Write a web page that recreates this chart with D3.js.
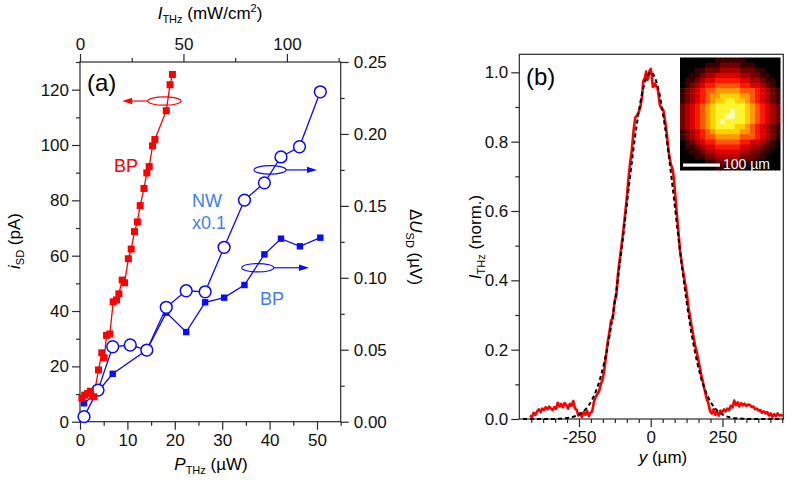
<!DOCTYPE html>
<html><head><meta charset="utf-8">
<script src="https://cdn.jsdelivr.net/npm/d3@7"></script>
<style>body{margin:0;background:#fff}svg{display:block}text{font-family:"Liberation Sans",Arial,sans-serif}</style>
</head><body>
<svg id="c" width="787" height="482"></svg>
<script>
// ---------- Panel (a) data ----------
const bpRedP = [0.4,1.0,1.6,2.2,2.9,3.9,4.6,5.1,5.6,6.3,7.0,7.7,8.2,8.9,9.4,10.2,10.8,11.5,12.1,12.7,13.5,14.1,14.6,15.3,15.8,18.2,19.0,19.5];
const bpRedI = [8.5,9.6,10.2,11.0,9.0,18.7,24.9,23.1,31.2,31.7,43.3,44.0,46.2,51.2,50.2,58.9,62.4,68.7,72.2,78.1,84.3,89.9,92.2,99.7,102.0,112.4,121.8,125.5];
const bpBlueP = [0.85,3.8,6.9,14.1,18.2,22.4,26.4,30.4,34.7,38.9,42.4,46.4,50.7];
const bpBlueU = [0.0128,0.021,0.0333,0.0498,0.0758,0.0623,0.083,0.0862,0.095,0.1163,0.1272,0.1219,0.1279];
const nwP = [0.85,3.8,6.9,10.6,14.1,18.2,22.4,26.4,30.4,34.7,38.9,42.4,46.3,50.7];
const nwU = [0.0035,0.022,0.0521,0.0533,0.0498,0.0795,0.091,0.0903,0.1212,0.154,0.166,0.184,0.1911,0.2293];
const aLeftTicks = [0,20,40,60,80,100,120];
const aRightTicks = [0,0.05,0.10,0.15,0.20,0.25];
const aBottomTicks = [0,10,20,30,40,50];
const aTopTicks = [0,50,100];
// ---------- Panel (b) data ----------
const profY = [-421,-414,-408,-402,-396,-390,-384,-378,-372,-366,-360,-354,-348,-342,-336,-330,-324,-318,-312,-306,-300,-294,-288,-282,-276,-270,-264,-258,-252,-246,-240,-234,-228,-222,-216,-210,-204,-198,-192,-186,-180,-174,-168,-162,-156,-150,-144,-138,-132,-126,-120,-114,-108,-102,-96,-90,-84,-78,-72,-66,-60,-54,-48,-42,-36,-30,-26,-20,-16,-12,-8,-4,0,4,7,11,15,19,24,28,32,38,44,50,56,60,65,70,77,81,85,90,96,102,108,114,120,126,131,137,143,149,155,160,166,172,178,183,189,195,201,207,213,219,225,231,237,243,249,255,261,267,273,279,285,291,297,303,309,315,321,327,333,340,346,352,358,364,370,376,382,388,394,400,406,412,418,424,430,436,442,448,454,460];
const profI = [0.010,0.005,0.018,0.012,0.022,0.028,0.020,0.030,0.026,0.034,0.028,0.036,0.030,0.026,0.034,0.029,0.047,0.036,0.044,0.034,0.046,0.040,0.030,0.044,0.038,0.052,0.030,0.026,0.010,0.016,0.006,0.020,0.012,0.024,0.008,0.018,0.022,0.050,0.064,0.072,0.080,0.100,0.113,0.140,0.180,0.222,0.250,0.285,0.290,0.340,0.355,0.420,0.460,0.500,0.540,0.585,0.632,0.690,0.737,0.775,0.830,0.870,0.875,0.885,0.900,0.930,0.975,0.985,1.002,0.978,0.985,1.005,1.010,0.990,0.958,0.960,0.968,0.960,0.954,0.930,0.905,0.895,0.891,0.860,0.824,0.790,0.757,0.735,0.718,0.690,0.651,0.600,0.545,0.487,0.450,0.420,0.391,0.360,0.324,0.295,0.265,0.237,0.210,0.195,0.170,0.145,0.120,0.103,0.080,0.058,0.045,0.022,0.016,0.028,0.012,0.020,0.010,0.024,0.018,0.028,0.022,0.030,0.026,0.038,0.034,0.053,0.040,0.048,0.036,0.046,0.040,0.044,0.038,0.042,0.040,0.034,0.036,0.028,0.030,0.024,0.026,0.018,0.022,0.016,0.020,0.010,0.016,0.006,0.014,0.008,0.016,0.010,0.012,0.008];
const fitY = [-445,-400,-350,-300,-275,-250,-225,-200,-175,-150,-125,-100,-75,-50,-25,0,25,50,75,100,125,150,175,200,225,250,275,300,350,400,462];
const fitI = [0,0,0,0.002,0.005,0.013,0.03,0.063,0.12,0.211,0.339,0.5,0.678,0.841,0.958,1.0,0.958,0.841,0.678,0.5,0.339,0.211,0.12,0.063,0.03,0.013,0.005,0.002,0,0,0];
const bLeftTicks = [0,0.2,0.4,0.6,0.8,1.0];
const bBottomTicks = [-250,0,250];
// inset beam image (20 x 22 cells, level 0..a)
const beamRows = [
"00000001111110000000",
"00000111222211100000",
"00011222333322211000",
"00112334444433221100",
"01123445555544332110",
"01234556666655443210",
"12345667777766654321",
"12345677888877654321",
"12345678899887654321",
"23456789999998765432",
"2345678999a998765432",
"234567899aa998765432",
"23456789a99998765432",
"23456789999887654321",
"12345678888877654321",
"12345667777766654321",
"01234556666655443210",
"01123445555544332110",
"00112334444433221100",
"00011223333322211000",
"00000112222211100000",
"00000001111110000000"];

const svg = d3.select("#c");
const AX = "#2a2a2a";
const RED = "#ff0000", BLUE = "#0a0aff", LBLUE = "#3f7ff0";
const FS = 17;
const fmtHy = d => String(d);

function styleAxis(g){ g.select(".domain").remove(); g.selectAll("line").attr("stroke",AX).attr("stroke-width",1.2); g.selectAll("text").attr("font-size",FS).attr("fill","#111").attr("font-family","Liberation Sans, Arial"); }
function minor(g, axis){ g.call(axis); g.select(".domain").remove(); g.selectAll("line").attr("stroke",AX).attr("stroke-width",1.2); g.selectAll("text").remove(); }
const range = (a,b,s)=>{const r=[];for(let v=a;v<=b+1e-9;v+=s)r.push(+v.toFixed(6));return r;};

// ---------- Panel (a) ----------
const xA = d3.scaleLinear([0,55],[80,340.7]);
const xT = d3.scaleLinear([0,126],[80,340.7]);
const yL = d3.scaleLinear([0,130],[421.7,62]);
const yR = d3.scaleLinear([0,0.25],[421.7,62]);
const a = svg.append("g");
minor(a.append("g").attr("transform","translate(80,0)"), d3.axisLeft(yL).tickValues(range(10,130,20)).tickSize(4));
minor(a.append("g").attr("transform","translate(340.7,0)"), d3.axisRight(yR).tickValues(range(0.025,0.25,0.05)).tickSize(4));
minor(a.append("g").attr("transform","translate(0,421.7)"), d3.axisBottom(xA).tickValues(range(5,55,10)).tickSize(4));
minor(a.append("g").attr("transform","translate(0,62)"), d3.axisTop(xT).tickValues([25,75,125]).tickSize(4));
a.append("g").attr("transform","translate(80,0)").call(d3.axisLeft(yL).tickValues(aLeftTicks).tickSize(8).tickPadding(3)).call(styleAxis);
a.append("g").attr("transform","translate(340.7,0)").call(d3.axisRight(yR).tickValues(aRightTicks).tickSize(8).tickPadding(5).tickFormat(d3.format(".2f"))).call(styleAxis);
a.append("g").attr("transform","translate(0,421.7)").call(d3.axisBottom(xA).tickValues(aBottomTicks).tickSize(8).tickPadding(4)).call(styleAxis);
a.append("g").attr("transform","translate(0,62)").call(d3.axisTop(xT).tickValues(aTopTicks).tickSize(8).tickPadding(4)).call(styleAxis);
a.append("rect").attr("x",80).attr("y",62).attr("width",260.7).attr("height",359.7).attr("fill","none").attr("stroke",AX).attr("stroke-width",1.2);

const lineRed = d3.line().x(d=>xA(d[0])).y(d=>yL(d[1]));
const lineR = d3.line().x(d=>xA(d[0])).y(d=>yR(d[1]));
const redPts = bpRedP.map((p,i)=>[p,bpRedI[i]]);
const bluePts = bpBlueP.map((p,i)=>[p,bpBlueU[i]]);
const nwPts = nwP.map((p,i)=>[p,nwU[i]]);
a.append("path").attr("d",lineR(bluePts)).attr("fill","none").attr("stroke",BLUE).attr("stroke-width",1.3);
a.append("path").attr("d",lineR(nwPts)).attr("fill","none").attr("stroke",BLUE).attr("stroke-width",1.3);
a.append("path").attr("d",lineRed(redPts)).attr("fill","none").attr("stroke",RED).attr("stroke-width",1.3);
a.selectAll(".bsq").data(bluePts).enter().append("rect").attr("x",d=>xA(d[0])-3.2).attr("y",d=>yR(d[1])-3.2).attr("width",6.4).attr("height",6.4).attr("fill",BLUE);
a.selectAll(".nwc").data(nwPts).enter().append("circle").attr("cx",d=>xA(d[0])).attr("cy",d=>yR(d[1])).attr("r",5.9).attr("fill","#fff").attr("stroke",BLUE).attr("stroke-width",1.5);
a.selectAll(".rsq").data(redPts).enter().append("rect").attr("x",d=>xA(d[0])-3.5).attr("y",d=>yL(d[1])-3.5).attr("width",7).attr("height",7).attr("fill",RED);

function ann(cx, cy, rx, x2, col){
  a.append("ellipse").attr("cx",cx).attr("cy",cy).attr("rx",rx).attr("ry",4.2).attr("fill","none").attr("stroke",col).attr("stroke-width",1.2);
  const dir = x2 > cx ? 1 : -1;
  const x1 = cx + dir*rx;
  a.append("line").attr("x1",x1).attr("y1",cy).attr("x2",x2 - dir*8).attr("y2",cy).attr("stroke",col).attr("stroke-width",1.2);
  a.append("path").attr("d",`M${x2},${cy} L${x2-dir*10},${cy-3.2} L${x2-dir*10},${cy+3.2} Z`).attr("fill",col);
}
ann(xA(17.8), yL(115.9), 16.7, xA(8.9), RED);
ann(xA(40.1), yR(0.175), 16, xA(50.0), BLUE);
ann(xA(37.5), yR(0.107), 16, xA(48.3), BLUE);

a.append("text").attr("x",87).attr("y",91).attr("font-family","Liberation Serif, Times New Roman, serif").attr("font-size",24).text("(a)");
a.append("text").attr("x",114).attr("y",172).attr("font-size",18).attr("fill",RED).text("BP");
a.append("text").attr("x",192).attr("y",207).attr("font-size",18).attr("fill",LBLUE).text("NW");
a.append("text").attr("x",192).attr("y",229).attr("font-size",18).attr("fill",LBLUE).text("x0.1");
a.append("text").attr("x",260).attr("y",305).attr("font-size",18).attr("fill",LBLUE).text("BP");

const tt = a.append("text").attr("x",210).attr("y",19).attr("text-anchor","middle").attr("font-size",FS);
tt.append("tspan").attr("font-style","italic").text("I");
tt.append("tspan").attr("font-size",11).attr("dy",4).text("THz");
tt.append("tspan").attr("dy",-4).text(" (mW/cm");
tt.append("tspan").attr("font-size",11).attr("dy",-7).text("2");
tt.append("tspan").attr("dy",7).text(")");
const bt = a.append("text").attr("x",211).attr("y",470).attr("text-anchor","middle").attr("font-size",FS);
bt.append("tspan").attr("font-style","italic").text("P");
bt.append("tspan").attr("font-size",11).attr("dy",4).text("THz");
bt.append("tspan").attr("dy",-4).text(" (\u00B5W)");
const lt = a.append("text").attr("transform","translate(20,241) rotate(-90)").attr("text-anchor","middle").attr("font-size",FS);
lt.append("tspan").attr("font-style","italic").text("i");
lt.append("tspan").attr("font-size",11).attr("dy",4).text("SD");
lt.append("tspan").attr("dy",-4).text(" (pA)");
const rt = a.append("text").attr("transform","translate(410,247) rotate(90)").attr("text-anchor","middle").attr("font-size",FS);
rt.append("tspan").text("\u0394");
rt.append("tspan").attr("font-style","italic").text("U");
rt.append("tspan").attr("font-size",11).attr("dy",4).text("SD");
rt.append("tspan").attr("dy",-4).text(" (\u00B5V)");

// ---------- Panel (b) ----------
const xB = d3.scaleLinear([-458,462],[519.3,783.3]);
const yB = d3.scaleLinear([0,1.052],[419,54.3]);
const b = svg.append("g");
minor(b.append("g").attr("transform","translate(519.3,0)"), d3.axisLeft(yB).tickValues(range(0.1,1.0,0.2)).tickSize(4));
minor(b.append("g").attr("transform","translate(0,419)"), d3.axisBottom(xB).tickValues(d3.range(-10,12).map(k=>k*250/6).filter(v=>v>-458&&v<462&&Math.abs(v%250)>1)).tickSize(4));
b.append("g").attr("transform","translate(519.3,0)").call(d3.axisLeft(yB).tickValues(bLeftTicks).tickSize(8).tickPadding(3).tickFormat(d3.format(".1f"))).call(styleAxis);
b.append("g").attr("transform","translate(0,419)").call(d3.axisBottom(xB).tickValues(bBottomTicks).tickSize(8).tickPadding(4).tickFormat(fmtHy)).call(styleAxis);
b.append("rect").attr("x",519.3).attr("y",54.3).attr("width",264).attr("height",364.7).attr("fill","none").attr("stroke",AX).attr("stroke-width",1.2);

const lineB = d3.line().x(d=>xB(d[0])).y(d=>yB(d[1]));
b.append("path").attr("d",lineB(profY.map((v,i)=>[v,profI[i]]))).attr("fill","none").attr("stroke",RED).attr("stroke-width",2.6).attr("stroke-linejoin","round");
b.append("path").attr("d",lineB.curve(d3.curveMonotoneX)(fitY.map((v,i)=>[v,fitI[i]]))).attr("fill","none").attr("stroke","#000").attr("stroke-width",2).attr("stroke-dasharray","4,3");

// inset
const ix0 = 680, iy0 = 57.5, iw = 100, ih = 112.5;
const nC = beamRows[0].length, nR = beamRows.length;
const cxs = d3.scaleBand(d3.range(nC),[ix0,ix0+iw]);
const cys = d3.scaleBand(d3.range(nR),[iy0,iy0+ih]);
const hot = d3.scaleLinear([0,1,2,3,4,5,6,7,8,9,10],["#000000","#3a0000","#740000","#a80000","#dc0000","#ff1800","#ff5800","#ff9800","#ffd000","#fff430","#ffffb0"]).clamp(true);
const cells = [];
beamRows.forEach((row,r)=>row.split("").forEach((ch,c)=>cells.push({r,c,v:parseInt(ch,16)})));
b.append("g").selectAll("rect").data(cells).enter().append("rect")
 .attr("x",d=>cxs(d.c)).attr("y",d=>cys(d.r)).attr("width",cxs.bandwidth()+0.5).attr("height",cys.bandwidth()+0.5).attr("fill",d=>hot(d.v));
b.append("rect").attr("x",683).attr("y",163.5).attr("width",37).attr("height",3.2).attr("fill","#fff");
b.append("text").attr("x",723).attr("y",169).attr("font-size",14).attr("fill","#fff").text("100 \u00B5m");

b.append("text").attr("x",526).attr("y",85).attr("font-family","Liberation Serif, Times New Roman, serif").attr("font-size",24).text("(b)");
const lb = b.append("text").attr("transform","translate(481,237) rotate(-90)").attr("text-anchor","middle").attr("font-size",FS);
lb.append("tspan").attr("font-style","italic").text("I");
lb.append("tspan").attr("font-size",11).attr("dy",4).text("THz");
lb.append("tspan").attr("dy",-4).text(" (norm.)");
const xb = b.append("text").attr("x",663).attr("y",463).attr("text-anchor","middle").attr("font-size",FS);
xb.append("tspan").attr("font-style","italic").text("y");
xb.append("tspan").text(" (\u00B5m)");
</script>
</body></html>
